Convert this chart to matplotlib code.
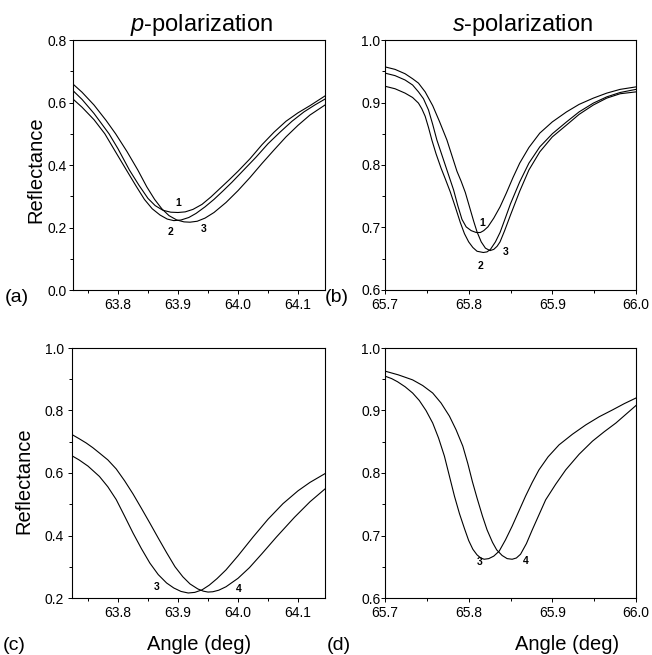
import matplotlib.pyplot as plt
from matplotlib.ticker import MultipleLocator, FormatStrFormatter

plt.rcParams['font.family'] = ['Liberation Sans', 'DejaVu Sans']
plt.rcParams['mathtext.fontset'] = 'custom'
plt.rcParams['mathtext.rm'] = 'Liberation Sans'
plt.rcParams['mathtext.it'] = 'Liberation Sans:italic'

# (a) p-polarization, samples 1-3
a1_x = [63.725, 63.74, 63.76, 63.785, 63.80, 63.819, 63.835, 63.85, 63.862, 63.875, 63.888,
        63.90, 63.912, 63.925, 63.94, 63.955, 63.97, 63.985, 64.00, 64.02, 64.04, 64.06,
        64.08, 64.10, 64.12, 64.145]
a1_y = [0.638, 0.61, 0.565, 0.50, 0.452, 0.384, 0.335, 0.293, 0.27, 0.255, 0.249,
        0.248, 0.25, 0.258, 0.274, 0.298, 0.325, 0.352, 0.38, 0.42, 0.465, 0.505,
        0.54, 0.567, 0.59, 0.621]
a2_x = [63.725, 63.74, 63.76, 63.778, 63.795, 63.814, 63.83, 63.844, 63.857, 63.87, 63.882,
        63.893, 63.905, 63.918, 63.93, 63.945, 63.96, 63.975, 63.99, 64.01, 64.03, 64.05,
        64.07, 64.09, 64.11, 64.128, 64.145]
a2_y = [0.611, 0.585, 0.545, 0.50, 0.445, 0.384, 0.333, 0.29, 0.26, 0.24, 0.227,
        0.222, 0.224, 0.232, 0.245, 0.266, 0.29, 0.317, 0.345, 0.385, 0.425, 0.468,
        0.505, 0.54, 0.57, 0.592, 0.611]
a3_x = [63.725, 63.74, 63.76, 63.78, 63.796, 63.815, 63.833, 63.848, 63.861, 63.873, 63.885,
        63.898, 63.91, 63.92, 63.932, 63.945, 63.96, 63.98, 64.0, 64.02, 64.04, 64.06,
        64.08, 64.10, 64.12, 64.145]
a3_y = [0.659, 0.633, 0.592, 0.543, 0.50, 0.443, 0.384, 0.33, 0.29, 0.26, 0.238,
        0.224, 0.218, 0.217, 0.22, 0.23, 0.248, 0.28, 0.318, 0.36, 0.405, 0.448,
        0.49, 0.527, 0.56, 0.592]

# (b) s-polarization, samples 1-3
b1_x = [65.70, 65.712, 65.724, 65.733, 65.74, 65.746, 65.752, 65.757, 65.762, 65.767, 65.772,
        65.777, 65.782, 65.787, 65.792, 65.797, 65.803, 65.809, 65.814, 65.818, 65.823, 65.83,
        65.8375, 65.845, 65.853, 65.861, 65.872, 65.885, 65.90, 65.917, 65.932, 65.949,
        65.965, 65.981, 66.0]
b1_y = [0.947, 0.943, 0.936, 0.928, 0.917, 0.906, 0.888, 0.865, 0.84, 0.82, 0.80,
        0.78, 0.76, 0.735, 0.713, 0.701, 0.695, 0.692, 0.692, 0.695, 0.701, 0.715,
        0.733, 0.755, 0.78, 0.803, 0.828, 0.851, 0.869, 0.885, 0.897, 0.907,
        0.915, 0.921, 0.925]
b2_x = [65.70, 65.712, 65.724, 65.733, 65.74, 65.744, 65.748, 65.752, 65.756, 65.761, 65.767,
        65.772, 65.778, 65.784, 65.79, 65.795, 65.80, 65.805, 65.81, 65.8175, 65.822, 65.826,
        65.832, 65.8375, 65.843, 65.85, 65.861, 65.872, 65.885, 65.90, 65.917, 65.932,
        65.949, 65.965, 65.981, 66.0]
b2_y = [0.926, 0.922, 0.915, 0.908, 0.899, 0.89, 0.878, 0.86, 0.84, 0.818, 0.795,
        0.778, 0.757, 0.733, 0.708, 0.69, 0.677, 0.668, 0.662, 0.660, 0.661, 0.665,
        0.677, 0.692, 0.712, 0.738, 0.773, 0.803, 0.829, 0.85, 0.869, 0.885,
        0.899, 0.909, 0.916, 0.921]
b3_x = [65.70, 65.712, 65.724, 65.733, 65.74, 65.748, 65.757, 65.765, 65.774, 65.78, 65.786,
        65.791, 65.796, 65.801, 65.806, 65.81, 65.815, 65.82, 65.8255, 65.83, 65.834, 65.8375,
        65.843, 65.85, 65.861, 65.872, 65.885, 65.90, 65.917, 65.932, 65.949, 65.965,
        65.981, 66.0]
b3_y = [0.957, 0.953, 0.946, 0.938, 0.931, 0.917, 0.895, 0.87, 0.84, 0.815, 0.79,
        0.774, 0.756, 0.733, 0.71, 0.693, 0.677, 0.667, 0.663, 0.665, 0.67, 0.677,
        0.695, 0.72, 0.758, 0.792, 0.821, 0.845, 0.864, 0.881, 0.896, 0.907,
        0.914, 0.917]

# (c) p-polarization, samples 3-4
c3_x = [63.7233, 63.735, 63.75, 63.769, 63.783, 63.797, 63.811, 63.825, 63.839, 63.853, 63.867,
        63.881, 63.893, 63.905, 63.917, 63.928, 63.94, 63.952, 63.965, 63.98, 64.0, 64.025,
        64.05, 64.075, 64.10, 64.12, 64.145]
c3_y = [0.655, 0.642, 0.622, 0.589, 0.556, 0.515, 0.462, 0.408, 0.358, 0.312, 0.275,
        0.248, 0.232, 0.221, 0.216, 0.218, 0.226, 0.241, 0.262, 0.29, 0.335, 0.395,
        0.452, 0.502, 0.543, 0.57, 0.598]
c4_x = [63.7233, 63.735, 63.747, 63.758, 63.769, 63.783, 63.797, 63.811, 63.825, 63.839, 63.853,
        63.867, 63.881, 63.895, 63.908, 63.92, 63.933, 63.942, 63.95, 63.958, 63.968, 63.98,
        64.0, 64.019, 64.04, 64.064, 64.094, 64.12, 64.145]
c4_y = [0.723, 0.71, 0.696, 0.681, 0.664, 0.642, 0.613, 0.575, 0.533, 0.487, 0.44,
        0.392, 0.345, 0.30, 0.268, 0.245, 0.229, 0.222, 0.219, 0.22, 0.225, 0.236,
        0.263, 0.297, 0.342, 0.395, 0.458, 0.508, 0.549]

# (d) s-polarization, samples 3-4
d3_x = [65.70, 65.708, 65.715, 65.724, 65.733, 65.741, 65.749, 65.757, 65.764, 65.771, 65.777,
        65.783, 65.789, 65.795, 65.80, 65.805, 65.81, 65.8145, 65.8185, 65.824, 65.83, 65.8365,
        65.844, 65.852, 65.86, 65.868, 65.876, 65.884, 65.895, 65.908, 65.924, 65.94,
        65.956, 65.972, 65.986, 66.0]
d3_y = [0.955, 0.951, 0.946, 0.938, 0.928, 0.916, 0.90, 0.880, 0.856, 0.827, 0.795,
        0.763, 0.735, 0.711, 0.692, 0.678, 0.669, 0.664, 0.662, 0.663, 0.667, 0.675,
        0.693, 0.715, 0.739, 0.763, 0.785, 0.805, 0.826, 0.845, 0.862, 0.877,
        0.89, 0.901, 0.911, 0.920]
d4_x = [65.70, 65.716, 65.733, 65.745, 65.757, 65.767, 65.777, 65.785, 65.793, 65.799, 65.8045,
        65.81, 65.8165, 65.822, 65.8285, 65.8335, 65.84, 65.846, 65.852, 65.857, 65.862, 65.869,
        65.876, 65.884, 65.892, 65.904, 65.916, 65.932, 65.948, 65.962, 65.976, 65.988,
        66.0]
d4_y = [0.963, 0.957, 0.949, 0.94, 0.928, 0.912, 0.891, 0.869, 0.843, 0.815, 0.786,
        0.76, 0.731, 0.709, 0.689, 0.677, 0.668, 0.663, 0.662, 0.664, 0.67, 0.687,
        0.709, 0.733, 0.757, 0.782, 0.805, 0.83, 0.851, 0.866, 0.880, 0.894,
        0.908]

W, H = 652, 655
fig = plt.figure(figsize=(W / 100, H / 100), dpi=100)


def add_panel(l, t, r, b):
    return fig.add_axes([l / W, 1 - b / H, (r - l) / W, (b - t) / H])


def style(ax, xlim, ylim, ymaj, ymin, ypad):
    ax.set_xlim(*xlim)
    ax.set_ylim(*ylim)
    ax.xaxis.set_major_locator(MultipleLocator(0.1))
    ax.xaxis.set_minor_locator(MultipleLocator(0.05))
    ax.yaxis.set_major_locator(MultipleLocator(ymaj))
    ax.yaxis.set_minor_locator(MultipleLocator(ymin))
    ax.xaxis.set_major_formatter(FormatStrFormatter('%.1f'))
    ax.yaxis.set_major_formatter(FormatStrFormatter('%.1f'))
    ax.tick_params(which='both', direction='out', width=0.7, labelsize=10)
    ax.tick_params(which='major', length=3)
    ax.tick_params(which='minor', length=2.5)
    ax.tick_params(axis='x', pad=2.5)
    ax.tick_params(axis='y', pad=ypad)
    for s in ax.spines.values():
        s.set_linewidth(0.8)


def num(ax, x, y, s):
    ax.text(x, y, s, fontsize=7.5, fontweight='bold', ha='center', va='center')


lw = 0.8

ax_a = add_panel(73, 40, 325, 290)
ax_a.plot(a1_x, a1_y, 'k-', lw=lw)
ax_a.plot(a2_x, a2_y, 'k-', lw=lw)
ax_a.plot(a3_x, a3_y, 'k-', lw=lw)
style(ax_a, (63.725, 64.145), (0.0, 0.8), 0.2, 0.1, 1.5)
num(ax_a, 63.90, 0.278, '1')
num(ax_a, 63.888, 0.185, '2')
num(ax_a, 63.943, 0.195, '3')

ax_b = add_panel(385, 40, 636, 290)
ax_b.plot(b1_x, b1_y, 'k-', lw=lw)
ax_b.plot(b2_x, b2_y, 'k-', lw=lw)
ax_b.plot(b3_x, b3_y, 'k-', lw=lw)
style(ax_b, (65.7, 66.0), (0.6, 1.0), 0.1, 0.05, 0.3)
num(ax_b, 65.8165, 0.707, '1')
num(ax_b, 65.8145, 0.639, '2')
num(ax_b, 65.8444, 0.661, '3')

ax_c = add_panel(72, 348, 325, 598)
ax_c.plot(c3_x, c3_y, 'k-', lw=lw)
ax_c.plot(c4_x, c4_y, 'k-', lw=lw)
style(ax_c, (63.7233, 64.145), (0.2, 1.0), 0.2, 0.1, 3)
num(ax_c, 63.865, 0.234, '3')
num(ax_c, 64.002, 0.229, '4')

ax_d = add_panel(385, 348, 636, 598)
ax_d.plot(d3_x, d3_y, 'k-', lw=lw)
ax_d.plot(d4_x, d4_y, 'k-', lw=lw)
style(ax_d, (65.7, 66.0), (0.6, 1.0), 0.1, 0.05, 0.3)
num(ax_d, 65.813, 0.657, '3')
num(ax_d, 65.868, 0.659, '4')


def ftext(x, y, s, **kw):
    fig.text(x / W, 1 - y / H, s, **kw)


ftext(201, 31.5, r'$\it{p}$-polarization', fontsize=17, ha='center', va='baseline')
ftext(522, 31.5, r'$\it{s}$-polarization', fontsize=17, ha='center', va='baseline')
ftext(36, 170, 'Reflectance', fontsize=14.5, rotation=90, ha='center', va='center')
ftext(23.5, 481, 'Reflectance', fontsize=14.5, rotation=90, ha='center', va='center')
ftext(199, 650, 'Angle (deg)', fontsize=14.5, ha='center', va='baseline')
ftext(567, 650, 'Angle (deg)', fontsize=14.5, ha='center', va='baseline')
ftext(17, 298, '(a)', fontsize=14, ha='center', va='center')
ftext(337, 297, '(b)', fontsize=14, ha='center', va='center')
ftext(14, 646, '(c)', fontsize=14, ha='center', va='center')
ftext(339, 646, '(d)', fontsize=14, ha='center', va='center')

fig.savefig('out.png', dpi=100)
